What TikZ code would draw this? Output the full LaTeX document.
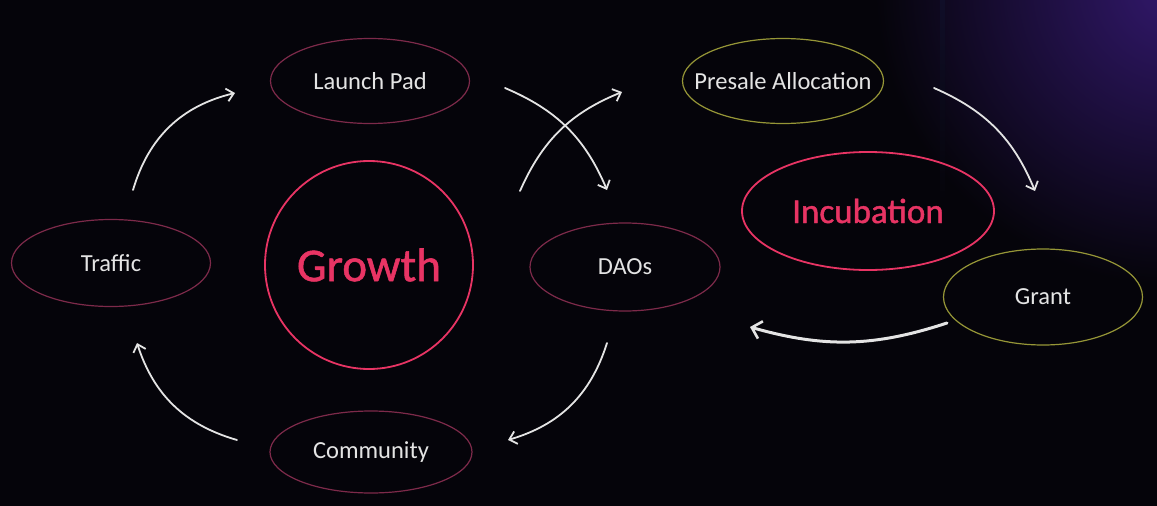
\documentclass[tikz,border=0pt]{standalone}
\usepackage{fontspec}
\setmainfont{Carlito}
\newfontfamily\pinkfont[FakeBold=1.2]{Carlito}
\usetikzlibrary{shapes.geometric,arrows.meta}
\definecolor{bg}{RGB}{5,4,10}
\definecolor{glow}{RGB}{50,24,108}
\definecolor{dimpink}{RGB}{125,42,74}
\definecolor{olive}{RGB}{150,150,55}
\definecolor{hotpink}{RGB}{232,52,100}
\definecolor{txt}{RGB}{228,228,228}
\definecolor{band}{RGB}{16,14,40}
\tikzset{
  lab/.style={ellipse, draw=dimpink, line width=1.2pt, inner sep=0pt,
    minimum width=199pt, minimum height=85pt, text=txt, font=\fontsize{24.5}{26}\selectfont},
  labolive/.style={lab, draw=olive},
  arr/.style={draw=txt, line width=1.8pt, line cap=round,
    -{Straight Barb[length=7pt,width=13pt,line width=1.8pt]}},
  bigarr/.style={draw=txt, line width=3pt, line cap=round,
    -{Straight Barb[length=9pt,width=18pt,line width=2.6pt]}}
}
\begin{document}
\begin{tikzpicture}[x=1pt,y=-1pt]
\useasboundingbox (0,0) rectangle (1157,506);
\fill[bg] (0,0) rectangle (1157,506);
\begin{scope}
\clip (0,0) rectangle (1157,506);
\shade[inner color=glow, outer color=bg] (1175,-15) circle (300);
\shade[top color=band, bottom color=bg] (940,0) rectangle (945,200);
\end{scope}

% nodes
\node[lab] (launch) at (370,81) {Launch Pad};
\node[labolive, minimum width=201pt, inner xsep=-22pt] (presale) at (783,81) {Presale Allocation};
\node[lab, minimum height=87pt] (traffic) at (111,263) {Traffic};
\node[lab, minimum width=190pt, minimum height=88pt] (daos) at (625,267) {DAOs};
\node[lab, minimum width=202pt, minimum height=82pt] (community) at (371,452) {Community};
\node[labolive, minimum height=96pt] (grant) at (1043,297) {Grant};
\node[circle, draw=hotpink, line width=1.8pt, minimum size=208pt, inner sep=0pt,
      text=hotpink, font=\pinkfont\fontsize{47}{50}\selectfont] (growth) at (369,265) {Growth};
\node[ellipse, draw=hotpink, line width=1.8pt, minimum width=252pt, minimum height=118pt,
      inner sep=0pt, text=hotpink, font=\pinkfont\fontsize{35}{38}\selectfont] (incub) at (868,211) {Incubation};

% arrow end points
\coordinate (trafficOut) at (133,190);
\coordinate (launchIn) at (235,93);
\coordinate (launchOut) at (505,88);
\coordinate (daosIn) at (607,190);
\coordinate (daosOut) at (520,191);
\coordinate (presaleIn) at (622,92);
\coordinate (daosOut2) at (607,343);
\coordinate (communityIn) at (508,440);
\coordinate (communityOut) at (237,440);
\coordinate (trafficIn) at (137,343);
\coordinate (presaleOut) at (934,88);
\coordinate (grantIn) at (1035,191);
\coordinate (grantOut) at (947,323);
\coordinate (daosIn2) at (750,327);

\draw[arr] (trafficOut) to[bend left=30] (launchIn);
\draw[arr] (launchOut) to[bend left=22] (daosIn);
\draw[arr] (daosOut) to[bend left=22] (presaleIn);
\draw[arr] (daosOut2) to[bend left=28] (communityIn);
\draw[arr] (communityOut) to[bend left=28] (trafficIn);
\draw[arr] (presaleOut) to[bend left=22] (grantIn);
\draw[bigarr] (grantOut) to[bend left=17] (daosIn2);
\end{tikzpicture}
\end{document}
